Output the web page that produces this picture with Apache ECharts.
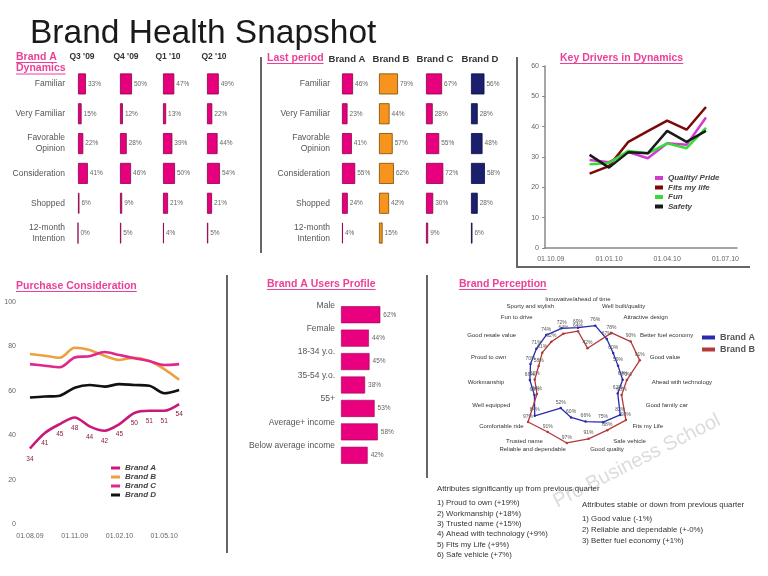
<!DOCTYPE html>
<html><head><meta charset="utf-8">
<script src="https://cdn.jsdelivr.net/npm/echarts@6/dist/echarts.min.js"></script>
<style>html,body{margin:0;padding:0;background:#fff}#c{width:768px;height:576px}</style>
</head><body><div id="c"></div>
<script>
const FONT = "'Liberation Sans', Arial, sans-serif";

// ---- Brand A Dynamics / Last period (funnel) ----
const funnelRows = ['Familiar', 'Very Familiar', 'Favorable\nOpinion', 'Consideration', 'Shopped', '12-month\nIntention'];
const dynQuarters = ["Q3 '09", "Q4 '09", "Q1 '10", "Q2 '10"];
const dynQ3_09 = [33, 15, 22, 41, 6, 0];
const dynQ4_09 = [50, 12, 28, 46, 9, 5];
const dynQ1_10 = [47, 13, 39, 50, 21, 4];
const dynQ2_10 = [49, 22, 44, 54, 21, 5];
const lastBrands = ['Brand A', 'Brand B', 'Brand C', 'Brand D'];
const lastBrandA = [46, 23, 41, 55, 24, 4];
const lastBrandB = [79, 44, 57, 62, 42, 15];
const lastBrandC = [67, 28, 55, 72, 30, 9];
const lastBrandD = [56, 28, 48, 58, 28, 6];

// ---- Key Drivers in Dynamics ----
const kdNames = ['Quality/ Pride', 'Fits my life', 'Fun', 'Safety'];
const kdTickLabels = ['01.10.09', '01.01.10', '01.04.10', '01.07.10'];
const kdMonthIndex = [2, 3, 4, 5, 6, 7, 8];
const kdQuality = [29, 28.3, 31.6, 29.6, 34.5, 34, 43];
const kdFits = [24.5, 27, 35, 38.5, 42, 39, 46.5];
const kdFun = [27.6, 28, 32, 31.2, 34.5, 32.9, 39.6];
const kdSafety = [30.7, 26.5, 31.6, 31.2, 38.6, 35, 38.6];

// ---- Purchase Consideration ----
const pcNames = ['Brand A', 'Brand B', 'Brand C', 'Brand D'];
const pcTickLabels = ['01.08.09', '01.11.09', '01.02.10', '01.05.10'];
const pcMonthIndex = [0, 1, 2, 3, 4, 5, 6, 7, 8, 9, 10];
const pcBrandA = [34, 41, 45, 48, 44, 42, 45, 50, 51, 51, 54];
const pcBrandB = [76.6, 75.8, 74.9, 79.4, 78.4, 75.8, 73.9, 74.9, 73.4, 69.8, 65];
const pcBrandC = [72, 71.3, 70.6, 75, 75.6, 77.5, 76.1, 74.7, 73.4, 71.6, 72];
const pcBrandD = [57, 57.4, 57.8, 61.4, 62.6, 61.9, 63, 62.6, 62.3, 58.9, 60.4];

// ---- Brand A Users Profile ----
const upCategories = ['Male', 'Female', '18-34 y.o.', '35-54 y.o.', '55+', 'Average+ income', 'Below average income'];
const upValues = [62, 44, 45, 38, 53, 58, 42];

// ---- Brand Perception (radar, clockwise from top) ----
const bpAttributes = ['Innovative/ahead of time', 'Well built/quality', 'Attractive design', 'Better fuel economy',
  'Good value', 'Ahead with technology', 'Good family car', 'Fits my Life', 'Safe vehicle', 'Good quality',
  'Reliable and dependable', 'Trusted name', 'Comfortable ride', 'Well equipped', 'Workmanship',
  'Proud to own', 'Good resale value', 'Fun to drive', 'Sporty and stylish'];
const bpNames = ['Brand A ', 'Brand B '];
const bpBrandA = [69, 76, 67, 60, 59, 64, 62, 82, 75, 66, 60, 52, 84, 68, 69, 70, 71, 74, 72];
const bpBrandB = [64, 42, 78, 90, 91, 70, 68, 93, 88, 91, 97, 91, 97, 64, 62, 58, 61, 62, 64];
const attrsUp = ['1) Proud to own (+19%)', '2) Workmanship (+18%)', '3) Trusted name (+15%)',
  '4) Ahead with technology (+9%)', '5) Fits my Life (+9%)', '6) Safe vehicle (+7%)'];
const attrsStable = ['1) Good value (-1%)', '2) Reliable and dependable (+-0%)', '3) Better fuel economy (+1%)'];

const PINK = '#ec3f98';
const MAG = '#e6007e';
const chart = echarts.init(document.getElementById('c'), null, {renderer: 'canvas', width: 768, height: 576});
const grids = [], xAxes = [], yAxes = [], series = [];

function funnelColumn(values, left, color, border, showRows, rowMargin, name) {
  const gi = grids.length;
  grids.push({left: left, top: 69, width: 24, height: 179, outerBoundsMode: 'none'});
  xAxes.push({gridIndex: gi, type: 'value', min: 0, max: 100, show: false});
  yAxes.push({gridIndex: gi, type: 'category', data: funnelRows, inverse: true,
    axisLine: {show: false}, axisTick: {show: false}, splitLine: {show: false},
    axisLabel: {show: showRows, margin: rowMargin, fontSize: 8.5, color: '#555', fontFamily: FONT, lineHeight: 11}});
  series.push({type: 'bar', name: name, xAxisIndex: gi, yAxisIndex: gi, data: values, barWidth: 21,
    itemStyle: {color: color, borderColor: border, borderWidth: 0.8},
    label: {show: true, position: 'right', distance: 2, fontSize: 6.5, color: '#666', fontFamily: FONT, formatter: '{c}%'}});
}
funnelColumn(dynQ3_09, 78, MAG, '#8a0048', true, 13, 'dq3');
funnelColumn(dynQ4_09, 120, MAG, '#8a0048', false, 0, 'dq4');
funnelColumn(dynQ1_10, 163, MAG, '#8a0048', false, 0, 'dq1');
funnelColumn(dynQ2_10, 207, MAG, '#8a0048', false, 0, 'dq2');
funnelColumn(lastBrandA, 342, MAG, '#8a0048', true, 12, 'la');
funnelColumn(lastBrandB, 379, '#f7941d', '#7a4a00', false, 0, 'lb');
funnelColumn(lastBrandC, 426, MAG, '#8a0048', false, 0, 'lc');
funnelColumn(lastBrandD, 471, '#1b1f6e', '#0a0c3a', false, 0, 'ld');

// Key drivers grid (8)
grids.push({left: 545, top: 66, width: 192, height: 182, outerBoundsMode: 'none'});
xAxes.push({gridIndex: 8, type: 'value', min: -0.3, max: 9.6,
  axisLine: {show: true, onZero: false, lineStyle: {color: '#888', width: 1.5}},
  axisTick: {show: false}, splitLine: {show: false},
  axisLabel: {customValues: [0, 3, 6, 9], formatter: v => kdTickLabels[Math.round(v / 3)], fontSize: 7, color: '#666', fontFamily: FONT, margin: 8}});
yAxes.push({gridIndex: 8, type: 'value', min: 0, max: 60, interval: 10,
  axisLine: {show: true, onZero: false, lineStyle: {color: '#888', width: 1.5}},
  axisTick: {show: true, length: 3, lineStyle: {color: '#888'}}, splitLine: {show: false},
  axisLabel: {fontSize: 7, color: '#666', fontFamily: FONT, margin: 6}});
const kdColors = ['#d23ad2', '#7a0a0a', '#33dd33', '#1a1a1a'];
[kdQuality, kdFits, kdFun, kdSafety].forEach((arr, k) => {
  series.push({type: 'line', name: kdNames[k], xAxisIndex: 8, yAxisIndex: 8,
    data: kdMonthIndex.map((m, i) => [m, arr[i]]), symbol: 'none',
    lineStyle: {color: kdColors[k], width: 2.5}, itemStyle: {color: kdColors[k]}});
});

// Purchase consideration grid (9)
grids.push({left: 18, top: 302, width: 185, height: 222, outerBoundsMode: 'none'});
xAxes.push({gridIndex: 9, type: 'value', min: -0.8, max: 11.6,
  axisLine: {show: false}, axisTick: {show: false}, splitLine: {show: false},
  axisLabel: {customValues: [0, 3, 6, 9], formatter: v => pcTickLabels[Math.round(v / 3)], fontSize: 7, color: '#666', fontFamily: FONT, margin: 9}});
yAxes.push({gridIndex: 9, type: 'value', min: 0, max: 100, interval: 20,
  axisLine: {show: false}, axisTick: {show: false}, splitLine: {show: false},
  axisLabel: {fontSize: 7, color: '#666', fontFamily: FONT, margin: 2}});
const pcColors = ['#c8187a', '#eea040', '#e0288a', '#111111'];
[pcBrandA, pcBrandB, pcBrandC, pcBrandD].forEach((arr, k) => {
  series.push({type: 'line', name: pcNames[k], xAxisIndex: 9, yAxisIndex: 9, z: k === 0 ? 5 : 3,
    data: pcMonthIndex.map((m, i) => [m, arr[i]]),
    symbol: 'circle', symbolSize: k === 0 ? 0.1 : 0, showSymbol: k === 0, smooth: 0.3,
    lineStyle: {color: pcColors[k], width: 2.6}, itemStyle: {color: pcColors[k]},
    label: k === 0 ? {show: true, position: 'bottom', distance: 7, fontSize: 6.5, color: '#8b1a3a', fontFamily: FONT, formatter: p => p.value[1]} : {show: false}});
});

// Users profile grid (10)
grids.push({left: 341, top: 303, width: 63.4, height: 164, outerBoundsMode: 'none'});
xAxes.push({gridIndex: 10, type: 'value', min: 0, max: 100, show: false});
yAxes.push({gridIndex: 10, type: 'category', data: upCategories, inverse: true,
  axisLine: {show: false}, axisTick: {show: false},
  axisLabel: {margin: 6, fontSize: 8.5, color: '#555', fontFamily: FONT, verticalAlign: 'bottom', padding: [0, 0, 5, 0]}});
series.push({type: 'bar', name: 'up', xAxisIndex: 10, yAxisIndex: 10, data: upValues, barWidth: 17,
  itemStyle: {color: '#e8007f', borderColor: '#9a0052', borderWidth: 0.6},
  label: {show: true, position: 'right', distance: 3, fontSize: 6.5, color: '#666', fontFamily: FONT, formatter: '{c}%'}});

// Radar: ECharts places indicators counter-clockwise, so reorder the clockwise lists
const ccw = arr => [arr[0]].concat(arr.slice(1).reverse());
const bpColors = ['#2a2ab0', '#b23a3a'];
series.push({type: 'radar', radarIndex: 0, symbol: 'circle', symbolSize: 2.5,
  data: [bpBrandA, bpBrandB].map((arr, k) => ({name: bpNames[k], value: ccw(arr),
    lineStyle: {color: bpColors[k], width: 1.3}, itemStyle: {color: bpColors[k]}})),
  label: {show: true, fontSize: 5, color: '#555', fontFamily: FONT, distance: 2, formatter: p => p.value + '%'}});

// graphics
const mctx = document.createElement('canvas').getContext('2d');
function tw(t, font) { mctx.font = font; return mctx.measureText(t).width; }
const G = [];
function pinkTitle(t, x, y) {
  const f = 'bold 10.5px ' + FONT;
  G.push({type: 'text', x: x, y: y, style: {text: t, font: f, fill: PINK, textAlign: 'left', textVerticalAlign: 'middle'}});
  G.push({type: 'line', shape: {x1: x, y1: y + 5.5, x2: x + tw(t, f), y2: y + 5.5}, style: {stroke: PINK, lineWidth: 1}});
}
G.push({type: 'text', x: 30, y: 34, style: {text: 'Brand Health Snapshot', font: '33.5px ' + FONT, fill: '#1a1a1a', textAlign: 'left', textVerticalAlign: 'middle'}});
pinkTitle('Brand A', 16, 57);
pinkTitle('Dynamics', 16, 68.5);
pinkTitle('Last period', 267, 58);
pinkTitle('Key Drivers in Dynamics', 560, 58);
pinkTitle('Purchase Consideration', 16, 286);
pinkTitle('Brand A Users Profile', 267, 284);
pinkTitle('Brand Perception', 459, 284);
[82, 126, 168, 214].forEach((cx, i) => G.push({type: 'text', x: cx, y: 57, style: {text: dynQuarters[i], font: 'bold 8.5px ' + FONT, fill: '#333', textAlign: 'center', textVerticalAlign: 'middle'}}));
[347, 391, 435, 480].forEach((cx, i) => G.push({type: 'text', x: cx, y: 59.5, style: {text: lastBrands[i], font: 'bold 9.5px ' + FONT, fill: '#333', textAlign: 'center', textVerticalAlign: 'middle'}}));
function vline(x, y1, y2) { G.push({type: 'line', shape: {x1: x, y1: y1, x2: x, y2: y2}, style: {stroke: '#666', lineWidth: 2}}); }
vline(261, 57, 253);
vline(517, 57, 267);
G.push({type: 'line', shape: {x1: 516, y1: 267, x2: 750, y2: 267}, style: {stroke: '#666', lineWidth: 2}});
vline(227, 275, 553);
vline(427, 275, 478);
G.push({type: 'text', x: 637, y: 461, rotation: 0.47, z: -1, style: {text: 'Pro Business School', font: '20px ' + FONT, fill: '#dcdcdc', textAlign: 'center', textVerticalAlign: 'middle'}});
G.push({type: 'text', x: 437, y: 489, style: {text: 'Attributes significantly up from previous quarter', font: '7.8px ' + FONT, fill: '#333', textAlign: 'left', textVerticalAlign: 'middle'}});
G.push({type: 'text', x: 437, y: 497.8, style: {text: attrsUp.join('\n'), font: '7.8px ' + FONT, lineHeight: 10.4, fill: '#333', textAlign: 'left', textVerticalAlign: 'top'}});
G.push({type: 'text', x: 582, y: 505, style: {text: 'Attributes stable or down from previous quarter', font: '7.8px ' + FONT, fill: '#333', textAlign: 'left', textVerticalAlign: 'middle'}});
G.push({type: 'text', x: 582, y: 513.8, style: {text: attrsStable.join('\n'), font: '7.8px ' + FONT, lineHeight: 10.8, fill: '#333', textAlign: 'left', textVerticalAlign: 'top'}});

const legendText = (sz) => ({fontSize: sz, fontStyle: 'italic', fontWeight: 'bold', color: '#444', fontFamily: FONT});
chart.setOption({
  animation: false,
  backgroundColor: '#fff',
  textStyle: {fontFamily: FONT},
  grid: grids, xAxis: xAxes, yAxis: yAxes,
  radar: {center: [578, 376], radius: 70, startAngle: 90, shape: 'polygon', nameGap: 4,
    indicator: ccw(bpAttributes).map(n => ({name: n, max: 100})),
    axisName: {color: '#333', fontSize: 6, fontFamily: FONT},
    splitLine: {show: false}, splitArea: {show: false}, axisLine: {show: false}, axisTick: {show: false}},
  legend: [
    {data: kdNames, left: 650, top: 169, orient: 'vertical', itemWidth: 8, itemHeight: 4, itemGap: 1.5, icon: 'rect', selectedMode: false, textStyle: legendText(8)},
    {data: pcNames, left: 106, top: 459, orient: 'vertical', itemWidth: 9, itemHeight: 3, itemGap: 1, icon: 'rect', selectedMode: false, textStyle: legendText(8)},
    {data: bpNames, left: 697, top: 328, orient: 'vertical', itemWidth: 13, itemHeight: 4, itemGap: 3, icon: 'rect', selectedMode: false, textStyle: {fontSize: 9, fontWeight: 'bold', color: '#555', fontFamily: FONT}}
  ],
  series: series,
  graphic: {elements: G}
});
</script></body></html>
